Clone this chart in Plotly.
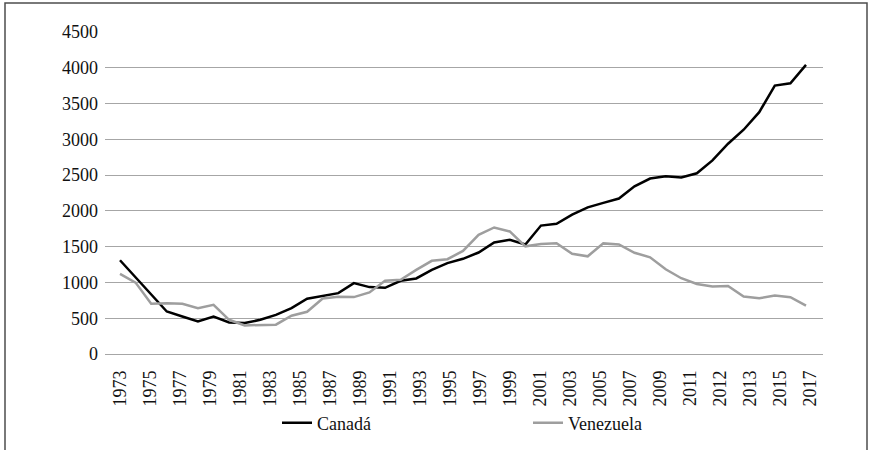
import plotly.graph_objects as go

# ---------------- data ----------------
years = list(range(1973, 2018))

canada = [1310, 1070, 840, 594, 524, 454, 524, 440, 432, 478,
          547, 642, 772, 814, 851, 990, 935, 925, 1023, 1056,
          1176, 1270, 1330, 1418, 1558, 1595, 1530, 1795, 1820, 1947,
          2050, 2112, 2173, 2344, 2452, 2484, 2466, 2525, 2705, 2939,
          3134, 3380, 3751, 3783, 4040]

venezuela = [1119, 998, 701, 710, 701, 641, 687, 478, 400, 400,
             410, 535, 590, 775, 800, 795, 860, 1023, 1037, 1176,
             1302, 1325, 1440, 1665, 1768, 1713, 1505, 1538, 1547, 1400,
             1365, 1546, 1532, 1415, 1351, 1184, 1059, 979, 945, 951,
             802, 780, 816, 794, 677]

tick_labels = ["1973", "1975", "1977", "1979", "1981", "1983", "1985", "1987",
               "1989", "1991", "1993", "1995", "1997", "1999", "2001", "2003",
               "2005", "2007", "2009", "2011", "2012", "2013", "2015", "2017"]

# ---------------- layout geometry (pixels) ----------------
W, H = 874, 450
L, R, T, B = 105, 51, 32, 96
plot_w = W - L - R
plot_h = H - T - B
first_px, last_px = 120, 806          # first / last data point
step = (last_px - first_px) / (len(years) - 1)
x_left = years[0] - (first_px - L) / step
x_right = years[-1] + (L + plot_w - last_px) / step

lab_step = 15.0                        # pixels per label category
lab_left = -(first_px - L) / lab_step
lab_right = (L + plot_w - first_px) / lab_step

FONT = dict(family="Liberation Serif", size=18, color="#111111")
GRID = "#a6a6a6"

fig = go.Figure()
fig.add_trace(go.Scatter(x=years, y=canada, name="Canadá", mode="lines",
                         line=dict(color="#000000", width=2.5)))
fig.add_trace(go.Scatter(x=years, y=venezuela, name="Venezuela", mode="lines",
                         line=dict(color="#9e9e9e", width=2.5)))
fig.add_trace(go.Scatter(x=[0, 2 * (len(tick_labels) - 1)], y=[None, None],
                         xaxis="x2", showlegend=False, hoverinfo="skip"))

def px_to_paper_x(px):
    return (px - L) / plot_w

def px_to_paper_y(py):
    return (T + plot_h - py) / plot_h

fig.update_layout(
    width=W, height=H, autosize=False,
    margin=dict(l=L, r=R, t=T, b=B, autoexpand=False),
    paper_bgcolor="white", plot_bgcolor="white",
    font=FONT,
    xaxis=dict(range=[x_left, x_right], showticklabels=False, showgrid=False,
               zeroline=False, showline=False, ticks="", automargin=False),
    xaxis2=dict(overlaying="x", anchor="y", side="bottom",
                range=[lab_left, lab_right], tickmode="array",
                tickvals=[2 * k for k in range(len(tick_labels))],
                ticktext=tick_labels, tickangle=-90, showgrid=False,
                zeroline=False, showline=False, ticks="", tickfont=FONT,
                ticklabelstandoff=12, automargin=False),
    yaxis=dict(range=[0, 4500], tick0=0, dtick=500, showgrid=True,
               gridcolor=GRID, gridwidth=1, zeroline=True, zerolinecolor=GRID,
               zerolinewidth=1, showline=False, ticks="", tickfont=FONT,
               ticklabelstandoff=6, automargin=False),
    legend=dict(orientation="h", xref="container", yref="container",
                x=277 / W, xanchor="left",
                y=1 - 423 / H, yanchor="middle",
                entrywidth=206, entrywidthmode="pixels",
                font=FONT, bgcolor="rgba(0,0,0,0)"),
    shapes=[dict(type="rect", xref="paper", yref="paper",
                 x0=px_to_paper_x(5), x1=px_to_paper_x(867),
                 y0=px_to_paper_y(470), y1=px_to_paper_y(3),
                 line=dict(color="#4d4d4d", width=1.5),
                 fillcolor="rgba(0,0,0,0)", layer="below")],
    showlegend=True,
)

fig.write_html("out.html",
               config={"displayModeBar": False},
               post_script="document.body.style.margin='0';document.body.style.overflow='hidden';")
